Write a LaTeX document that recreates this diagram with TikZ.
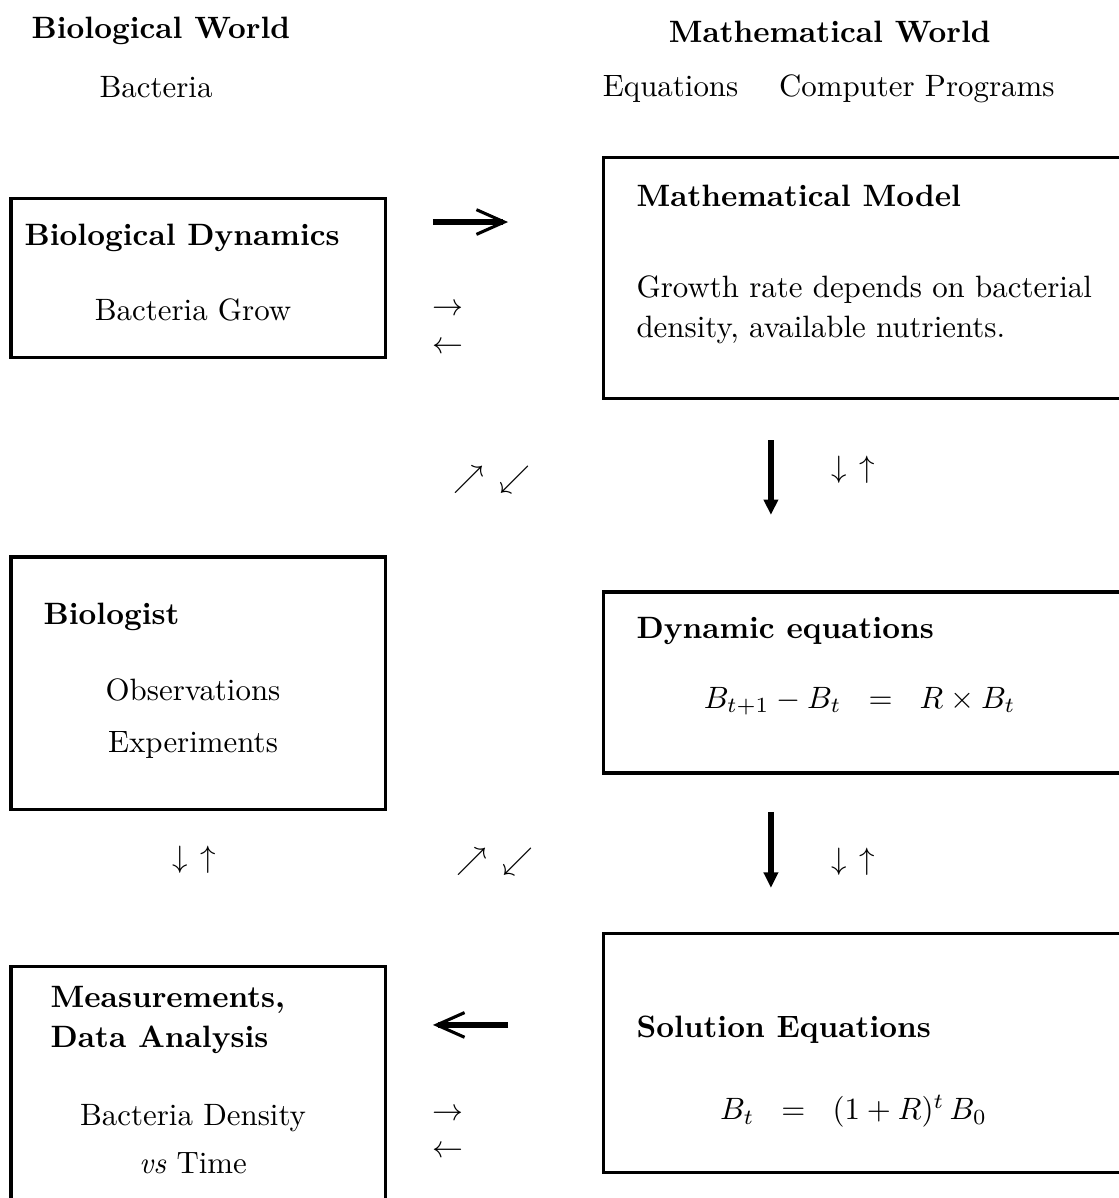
\documentclass[tikz,border=0pt]{standalone}
\usetikzlibrary{arrows.meta}

\tikzset{
	box/.style={draw, line width=1pt, rectangle, inner sep=0pt},
	txt/.style={inner sep=0pt},
	bigarrow/.style={line width=1.9pt, -{Straight Barb[length=9pt, width=8pt, line width=1pt]}},
	downarrow/.style={line width=1.9pt, -{Triangle[length=5pt, width=4.5pt]}}
}

\begin{document}
\begin{tikzpicture}
	\clip (0,0) rectangle (12.73,-13.63);

	% headings
	\node [txt] (bioworld) at (1.83,-0.35) {\bfseries Biological World};
	\node [txt] (bacteria) at (1.775,-0.99) {Bacteria};
	\node [txt] (mathworld) at (9.44,-0.36) {\bfseries Mathematical World};
	\node [txt] (equations) at (7.63,-1.01) {Equations};
	\node [txt] (programs) at (10.43,-1.01) {Computer Programs};

	% boxes
	\node [box, minimum width=4.266cm, minimum height=1.809cm] (dyn) at (2.258,-3.168) {};
	\node [box, minimum width=5.984cm, minimum height=2.742cm] (model) at (9.863,-3.168) {};
	\node [box, minimum width=4.266cm, minimum height=2.878cm] (bio) at (2.258,-7.776) {};
	\node [box, minimum width=5.984cm, minimum height=2.059cm] (dyneq) at (9.863,-7.765) {};
	\node [box, minimum width=4.266cm, minimum height=2.992cm] (meas) at (2.258,-12.497) {};
	\node [box, minimum width=5.984cm, minimum height=2.719cm] (sol) at (9.863,-11.985) {};

	% box texts
	\node [txt, anchor=west] (dyntitle) at (0.273,-2.708) {\bfseries Biological Dynamics};
	\node [txt] (grow) at (2.196,-3.527) {Bacteria Grow};
	\node [txt, anchor=west] (modeltitle) at (7.235,-2.23) {\bfseries Mathematical Model};
	\node [txt, anchor=west, align=left] (modeltext) at (7.235,-3.527) {Growth rate depends on bacterial\\[1pt] density, available nutrients.};
	\node [txt, anchor=west] (biotitle) at (0.489,-7.019) {\bfseries Biologist};
	\node [txt] (observ) at (2.196,-7.85) {Observations};
	\node [txt] (exper) at (2.196,-8.476) {Experiments};
	\node [txt, anchor=west] (dyneqtitle) at (7.235,-7.179) {\bfseries Dynamic equations};
	\node [txt] (dyneqmath) at (9.78,-7.98) {$B_{t+1}-B_t \hspace{6pt} = \hspace{6pt} R\times B_t$};
	\node [txt, anchor=west, align=left] (meastitle) at (0.57,-11.6) {\bfseries Measurements,\\[1pt] \bfseries Data Analysis};
	\node [txt] (density) at (2.196,-12.719) {Bacteria Density};
	\node [txt] (vstime) at (2.196,-13.231) {\textit{vs} Time};
	\node [txt, anchor=west] (soltitle) at (7.235,-11.718) {\bfseries Solution Equations};
	\node [txt] (solmath) at (9.71,-12.64) {$B_t \hspace{6pt} = \hspace{6pt} (1+R)^t\, B_0$};

	% small arrows
	\node [txt] (r1) at (5.097,-3.527) {$\rightarrow$};
	\node [txt] (l1) at (5.097,-3.959) {$\leftarrow$};
	\node [txt] (diag1) at (5.597,-5.461) {$\nearrow$\enspace$\swarrow$};
	\node [txt] (ud1) at (9.704,-5.347) {$\downarrow\hspace{4pt}\uparrow$};
	\node [txt] (ud2) at (2.207,-9.784) {$\downarrow\hspace{4pt}\uparrow$};
	\node [txt] (diag2) at (5.631,-9.807) {$\nearrow$\enspace$\swarrow$};
	\node [txt] (ud3) at (9.704,-9.807) {$\downarrow\hspace{4pt}\uparrow$};
	\node [txt] (r2) at (5.097,-12.685) {$\rightarrow$};
	\node [txt] (l2) at (5.097,-13.106) {$\leftarrow$};

	% thick arrows
	\coordinate (a1s) at (4.926,-2.526);
	\coordinate (a1e) at (5.78,-2.526);
	\coordinate (a2s) at (8.771,-5.006);
	\coordinate (a2e) at (8.771,-5.859);
	\coordinate (a3s) at (8.771,-9.238);
	\coordinate (a3e) at (8.771,-10.102);
	\coordinate (a4s) at (5.78,-11.661);
	\coordinate (a4e) at (4.926,-11.661);
	\draw [bigarrow] (a1s) -- (a1e);
	\draw [downarrow] (a2s) -- (a2e);
	\draw [downarrow] (a3s) -- (a3e);
	\draw [bigarrow] (a4s) -- (a4e);
\end{tikzpicture}
\end{document}
